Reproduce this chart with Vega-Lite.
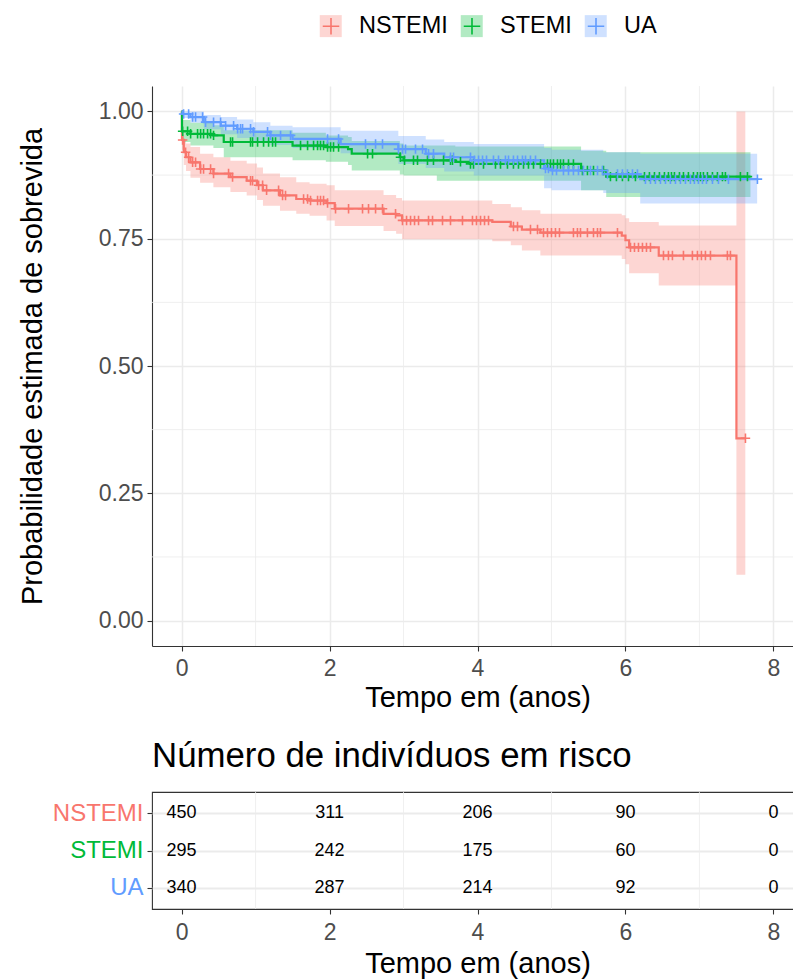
{
"$schema": "https://vega.github.io/schema/vega-lite/v6.json",
"background": "white",
"padding": {"left": 18, "top": 14, "right": 0, "bottom": 0},
"config": {
  "font": "Liberation Sans",
  "view": {"stroke": null},
  "axis": {"labelFont": "Liberation Sans", "labelFontSize": 23, "labelColor": "#4d4d4d", "titleFont": "Liberation Sans", "titleFontSize": 29, "titleFontWeight": "normal", "titleColor": "#000000", "domain": true, "ticks": true, "tickColor": "#333333", "tickSize": 5, "tickWidth": 1.1, "domainColor": "#333333", "domainWidth": 1.1, "gridColor": "#ebebeb", "gridWidth": 1.5, "labelPadding": 4},
  "legend": {"labelFont": "Liberation Sans", "labelFontSize": 23.5, "labelColor": "#000000", "padding": 0}
},
"datasets": {
  "curve": [
    {"g":"NSTEMI","t":0,"s":1,"lo":1,"hi":1},
    {"g":"NSTEMI","t":0.005,"s":0.944,"lo":0.925,"hi":0.963},
    {"g":"NSTEMI","t":0.03,"s":0.92,"lo":0.895,"hi":0.945},
    {"g":"NSTEMI","t":0.06,"s":0.91,"lo":0.883,"hi":0.937},
    {"g":"NSTEMI","t":0.12,"s":0.9,"lo":0.87,"hi":0.93},
    {"g":"NSTEMI","t":0.25,"s":0.887,"lo":0.86,"hi":0.917},
    {"g":"NSTEMI","t":0.43,"s":0.878,"lo":0.851,"hi":0.91},
    {"g":"NSTEMI","t":0.66,"s":0.871,"lo":0.842,"hi":0.903},
    {"g":"NSTEMI","t":0.88,"s":0.864,"lo":0.835,"hi":0.898},
    {"g":"NSTEMI","t":1.02,"s":0.855,"lo":0.826,"hi":0.89},
    {"g":"NSTEMI","t":1.1,"s":0.845,"lo":0.815,"hi":0.878},
    {"g":"NSTEMI","t":1.33,"s":0.835,"lo":0.805,"hi":0.871},
    {"g":"NSTEMI","t":1.55,"s":0.828,"lo":0.799,"hi":0.861},
    {"g":"NSTEMI","t":1.73,"s":0.825,"lo":0.795,"hi":0.858},
    {"g":"NSTEMI","t":1.96,"s":0.82,"lo":0.786,"hi":0.855},
    {"g":"NSTEMI","t":2.07,"s":0.809,"lo":0.775,"hi":0.845},
    {"g":"NSTEMI","t":2.73,"s":0.799,"lo":0.765,"hi":0.836},
    {"g":"NSTEMI","t":2.9,"s":0.796,"lo":0.76,"hi":0.83},
    {"g":"NSTEMI","t":2.98,"s":0.786,"lo":0.749,"hi":0.825},
    {"g":"NSTEMI","t":4.2,"s":0.783,"lo":0.745,"hi":0.818},
    {"g":"NSTEMI","t":4.45,"s":0.774,"lo":0.737,"hi":0.812},
    {"g":"NSTEMI","t":4.6,"s":0.768,"lo":0.727,"hi":0.806},
    {"g":"NSTEMI","t":4.85,"s":0.762,"lo":0.717,"hi":0.799},
    {"g":"NSTEMI","t":5.95,"s":0.756,"lo":0.71,"hi":0.796},
    {"g":"NSTEMI","t":6.0,"s":0.747,"lo":0.7,"hi":0.79},
    {"g":"NSTEMI","t":6.05,"s":0.733,"lo":0.682,"hi":0.783},
    {"g":"NSTEMI","t":6.45,"s":0.717,"lo":0.658,"hi":0.776},
    {"g":"NSTEMI","t":7.5,"s":0.358,"lo":0.09,"hi":1.0},
    {"g":"NSTEMI","t":7.62,"s":0.358,"lo":0.09,"hi":1.0},
    {"g":"STEMI","t":0,"s":1,"lo":1,"hi":1},
    {"g":"STEMI","t":0.005,"s":0.961,"lo":0.94,"hi":0.983},
    {"g":"STEMI","t":0.12,"s":0.956,"lo":0.933,"hi":0.978},
    {"g":"STEMI","t":0.43,"s":0.953,"lo":0.928,"hi":0.973},
    {"g":"STEMI","t":0.57,"s":0.94,"lo":0.91,"hi":0.963},
    {"g":"STEMI","t":1.5,"s":0.933,"lo":0.904,"hi":0.958},
    {"g":"STEMI","t":1.95,"s":0.93,"lo":0.901,"hi":0.953},
    {"g":"STEMI","t":2.25,"s":0.926,"lo":0.895,"hi":0.95},
    {"g":"STEMI","t":2.3,"s":0.917,"lo":0.884,"hi":0.942},
    {"g":"STEMI","t":2.95,"s":0.91,"lo":0.876,"hi":0.937},
    {"g":"STEMI","t":3.0,"s":0.904,"lo":0.874,"hi":0.933},
    {"g":"STEMI","t":3.45,"s":0.904,"lo":0.864,"hi":0.933},
    {"g":"STEMI","t":3.7,"s":0.901,"lo":0.864,"hi":0.931},
    {"g":"STEMI","t":3.9,"s":0.897,"lo":0.864,"hi":0.931},
    {"g":"STEMI","t":5.4,"s":0.884,"lo":0.845,"hi":0.923},
    {"g":"STEMI","t":5.74,"s":0.872,"lo":0.832,"hi":0.92},
    {"g":"STEMI","t":7.69,"s":0.872,"lo":0.832,"hi":0.92},
    {"g":"UA","t":0,"s":1,"lo":1,"hi":1},
    {"g":"UA","t":0.01,"s":0.995,"lo":0.987,"hi":1.0},
    {"g":"UA","t":0.12,"s":0.989,"lo":0.978,"hi":1.0},
    {"g":"UA","t":0.3,"s":0.979,"lo":0.965,"hi":0.993},
    {"g":"UA","t":0.53,"s":0.972,"lo":0.955,"hi":0.989},
    {"g":"UA","t":0.75,"s":0.966,"lo":0.948,"hi":0.984},
    {"g":"UA","t":0.97,"s":0.96,"lo":0.94,"hi":0.979},
    {"g":"UA","t":1.2,"s":0.953,"lo":0.934,"hi":0.972},
    {"g":"UA","t":1.5,"s":0.946,"lo":0.928,"hi":0.969},
    {"g":"UA","t":2.15,"s":0.936,"lo":0.918,"hi":0.962},
    {"g":"UA","t":2.93,"s":0.926,"lo":0.897,"hi":0.952},
    {"g":"UA","t":3.3,"s":0.917,"lo":0.889,"hi":0.945},
    {"g":"UA","t":3.55,"s":0.91,"lo":0.882,"hi":0.94},
    {"g":"UA","t":3.95,"s":0.904,"lo":0.874,"hi":0.936},
    {"g":"UA","t":4.9,"s":0.888,"lo":0.849,"hi":0.928},
    {"g":"UA","t":5.0,"s":0.884,"lo":0.845,"hi":0.925},
    {"g":"UA","t":5.7,"s":0.877,"lo":0.84,"hi":0.92},
    {"g":"UA","t":6.2,"s":0.867,"lo":0.819,"hi":0.917},
    {"g":"UA","t":7.78,"s":0.867,"lo":0.819,"hi":0.917}
  ],
  "cens": [
    {"g":"NSTEMI","t":0.014,"s":0.944},{"g":"NSTEMI","t":0.054,"s":0.92},{"g":"NSTEMI","t":0.095,"s":0.91},{"g":"NSTEMI","t":0.149,"s":0.9},{"g":"NSTEMI","t":0.189,"s":0.9},{"g":"NSTEMI","t":0.257,"s":0.887},{"g":"NSTEMI","t":0.297,"s":0.887},{"g":"NSTEMI","t":0.392,"s":0.887},{"g":"NSTEMI","t":0.432,"s":0.878},{"g":"NSTEMI","t":0.635,"s":0.878},{"g":"NSTEMI","t":0.689,"s":0.871},{"g":"NSTEMI","t":0.932,"s":0.864},{"g":"NSTEMI","t":0.959,"s":0.864},{"g":"NSTEMI","t":1.041,"s":0.855},{"g":"NSTEMI","t":1.095,"s":0.855},{"g":"NSTEMI","t":1.149,"s":0.845},{"g":"NSTEMI","t":1.311,"s":0.845},{"g":"NSTEMI","t":1.365,"s":0.835},{"g":"NSTEMI","t":1.405,"s":0.835},{"g":"NSTEMI","t":1.649,"s":0.828},{"g":"NSTEMI","t":1.703,"s":0.828},{"g":"NSTEMI","t":1.743,"s":0.825},{"g":"NSTEMI","t":1.838,"s":0.825},{"g":"NSTEMI","t":1.878,"s":0.825},{"g":"NSTEMI","t":1.919,"s":0.825},{"g":"NSTEMI","t":1.973,"s":0.82},{"g":"NSTEMI","t":2.081,"s":0.809},{"g":"NSTEMI","t":2.257,"s":0.809},{"g":"NSTEMI","t":2.446,"s":0.809},{"g":"NSTEMI","t":2.527,"s":0.809},{"g":"NSTEMI","t":2.622,"s":0.809},{"g":"NSTEMI","t":2.716,"s":0.809},{"g":"NSTEMI","t":2.892,"s":0.799},{"g":"NSTEMI","t":2.986,"s":0.786},{"g":"NSTEMI","t":3.041,"s":0.786},{"g":"NSTEMI","t":3.095,"s":0.786},{"g":"NSTEMI","t":3.149,"s":0.786},{"g":"NSTEMI","t":3.203,"s":0.786},{"g":"NSTEMI","t":3.338,"s":0.786},{"g":"NSTEMI","t":3.392,"s":0.786},{"g":"NSTEMI","t":3.527,"s":0.786},{"g":"NSTEMI","t":3.635,"s":0.786},{"g":"NSTEMI","t":3.797,"s":0.786},{"g":"NSTEMI","t":3.932,"s":0.786},{"g":"NSTEMI","t":3.986,"s":0.786},{"g":"NSTEMI","t":4.041,"s":0.786},{"g":"NSTEMI","t":4.095,"s":0.786},{"g":"NSTEMI","t":4.149,"s":0.786},{"g":"NSTEMI","t":4.486,"s":0.774},{"g":"NSTEMI","t":4.541,"s":0.774},{"g":"NSTEMI","t":4.716,"s":0.768},{"g":"NSTEMI","t":4.811,"s":0.768},{"g":"NSTEMI","t":4.892,"s":0.762},{"g":"NSTEMI","t":4.946,"s":0.762},{"g":"NSTEMI","t":5.0,"s":0.762},{"g":"NSTEMI","t":5.054,"s":0.762},{"g":"NSTEMI","t":5.108,"s":0.762},{"g":"NSTEMI","t":5.297,"s":0.762},{"g":"NSTEMI","t":5.351,"s":0.762},{"g":"NSTEMI","t":5.392,"s":0.762},{"g":"NSTEMI","t":5.486,"s":0.762},{"g":"NSTEMI","t":5.568,"s":0.762},{"g":"NSTEMI","t":5.622,"s":0.762},{"g":"NSTEMI","t":5.662,"s":0.762},{"g":"NSTEMI","t":5.892,"s":0.762},{"g":"NSTEMI","t":6.068,"s":0.733},{"g":"NSTEMI","t":6.122,"s":0.733},{"g":"NSTEMI","t":6.176,"s":0.733},{"g":"NSTEMI","t":6.23,"s":0.733},{"g":"NSTEMI","t":6.284,"s":0.733},{"g":"NSTEMI","t":6.338,"s":0.733},{"g":"NSTEMI","t":6.514,"s":0.717},{"g":"NSTEMI","t":6.581,"s":0.717},{"g":"NSTEMI","t":6.635,"s":0.717},{"g":"NSTEMI","t":6.784,"s":0.717},{"g":"NSTEMI","t":6.905,"s":0.717},{"g":"NSTEMI","t":6.973,"s":0.717},{"g":"NSTEMI","t":7.027,"s":0.717},{"g":"NSTEMI","t":7.081,"s":0.717},{"g":"NSTEMI","t":7.149,"s":0.717},{"g":"NSTEMI","t":7.378,"s":0.717},{"g":"NSTEMI","t":7.419,"s":0.717},{"g":"NSTEMI","t":7.622,"s":0.358},
    {"g":"STEMI","t":0.014,"s":0.961},{"g":"STEMI","t":0.081,"s":0.961},{"g":"STEMI","t":0.122,"s":0.956},{"g":"STEMI","t":0.216,"s":0.956},{"g":"STEMI","t":0.257,"s":0.956},{"g":"STEMI","t":0.297,"s":0.956},{"g":"STEMI","t":0.351,"s":0.956},{"g":"STEMI","t":0.392,"s":0.956},{"g":"STEMI","t":0.432,"s":0.953},{"g":"STEMI","t":0.662,"s":0.94},{"g":"STEMI","t":0.689,"s":0.94},{"g":"STEMI","t":0.932,"s":0.94},{"g":"STEMI","t":0.959,"s":0.94},{"g":"STEMI","t":1.027,"s":0.94},{"g":"STEMI","t":1.108,"s":0.94},{"g":"STEMI","t":1.176,"s":0.94},{"g":"STEMI","t":1.23,"s":0.94},{"g":"STEMI","t":1.27,"s":0.94},{"g":"STEMI","t":1.608,"s":0.933},{"g":"STEMI","t":1.703,"s":0.933},{"g":"STEMI","t":1.784,"s":0.933},{"g":"STEMI","t":1.838,"s":0.933},{"g":"STEMI","t":1.878,"s":0.933},{"g":"STEMI","t":1.919,"s":0.933},{"g":"STEMI","t":1.973,"s":0.93},{"g":"STEMI","t":2.014,"s":0.93},{"g":"STEMI","t":2.054,"s":0.93},{"g":"STEMI","t":2.122,"s":0.93},{"g":"STEMI","t":2.514,"s":0.917},{"g":"STEMI","t":2.581,"s":0.917},{"g":"STEMI","t":2.959,"s":0.91},{"g":"STEMI","t":3.014,"s":0.904},{"g":"STEMI","t":3.135,"s":0.904},{"g":"STEMI","t":3.189,"s":0.904},{"g":"STEMI","t":3.324,"s":0.904},{"g":"STEMI","t":3.405,"s":0.904},{"g":"STEMI","t":3.541,"s":0.904},{"g":"STEMI","t":3.635,"s":0.904},{"g":"STEMI","t":3.662,"s":0.904},{"g":"STEMI","t":3.77,"s":0.901},{"g":"STEMI","t":3.905,"s":0.897},{"g":"STEMI","t":3.946,"s":0.897},{"g":"STEMI","t":4.081,"s":0.897},{"g":"STEMI","t":4.243,"s":0.897},{"g":"STEMI","t":4.311,"s":0.897},{"g":"STEMI","t":4.405,"s":0.897},{"g":"STEMI","t":4.486,"s":0.897},{"g":"STEMI","t":4.554,"s":0.897},{"g":"STEMI","t":4.622,"s":0.897},{"g":"STEMI","t":4.689,"s":0.897},{"g":"STEMI","t":4.757,"s":0.897},{"g":"STEMI","t":4.851,"s":0.897},{"g":"STEMI","t":4.946,"s":0.897},{"g":"STEMI","t":4.986,"s":0.897},{"g":"STEMI","t":5.027,"s":0.897},{"g":"STEMI","t":5.081,"s":0.897},{"g":"STEMI","t":5.122,"s":0.897},{"g":"STEMI","t":5.162,"s":0.897},{"g":"STEMI","t":5.23,"s":0.897},{"g":"STEMI","t":5.297,"s":0.897},{"g":"STEMI","t":5.419,"s":0.884},{"g":"STEMI","t":5.486,"s":0.884},{"g":"STEMI","t":5.568,"s":0.884},{"g":"STEMI","t":5.703,"s":0.884},{"g":"STEMI","t":5.797,"s":0.872},{"g":"STEMI","t":5.878,"s":0.872},{"g":"STEMI","t":5.959,"s":0.872},{"g":"STEMI","t":6.041,"s":0.872},{"g":"STEMI","t":6.135,"s":0.872},{"g":"STEMI","t":6.257,"s":0.872},{"g":"STEMI","t":6.324,"s":0.872},{"g":"STEMI","t":6.392,"s":0.872},{"g":"STEMI","t":6.459,"s":0.872},{"g":"STEMI","t":6.527,"s":0.872},{"g":"STEMI","t":6.581,"s":0.872},{"g":"STEMI","t":6.622,"s":0.872},{"g":"STEMI","t":6.662,"s":0.872},{"g":"STEMI","t":6.73,"s":0.872},{"g":"STEMI","t":6.784,"s":0.872},{"g":"STEMI","t":6.851,"s":0.872},{"g":"STEMI","t":6.919,"s":0.872},{"g":"STEMI","t":6.973,"s":0.872},{"g":"STEMI","t":7.014,"s":0.872},{"g":"STEMI","t":7.054,"s":0.872},{"g":"STEMI","t":7.108,"s":0.872},{"g":"STEMI","t":7.176,"s":0.872},{"g":"STEMI","t":7.243,"s":0.872},{"g":"STEMI","t":7.311,"s":0.872},{"g":"STEMI","t":7.351,"s":0.872},{"g":"STEMI","t":7.554,"s":0.872},{"g":"STEMI","t":7.649,"s":0.872},
    {"g":"UA","t":0.027,"s":0.995},{"g":"UA","t":0.095,"s":0.995},{"g":"UA","t":0.149,"s":0.989},{"g":"UA","t":0.189,"s":0.989},{"g":"UA","t":0.284,"s":0.989},{"g":"UA","t":0.324,"s":0.979},{"g":"UA","t":0.432,"s":0.979},{"g":"UA","t":0.527,"s":0.979},{"g":"UA","t":0.595,"s":0.972},{"g":"UA","t":0.703,"s":0.972},{"g":"UA","t":0.757,"s":0.966},{"g":"UA","t":0.797,"s":0.966},{"g":"UA","t":0.824,"s":0.966},{"g":"UA","t":0.932,"s":0.966},{"g":"UA","t":0.973,"s":0.96},{"g":"UA","t":1.162,"s":0.96},{"g":"UA","t":1.203,"s":0.953},{"g":"UA","t":1.338,"s":0.953},{"g":"UA","t":1.473,"s":0.953},{"g":"UA","t":1.973,"s":0.946},{"g":"UA","t":2.122,"s":0.946},{"g":"UA","t":2.486,"s":0.936},{"g":"UA","t":2.622,"s":0.936},{"g":"UA","t":2.716,"s":0.936},{"g":"UA","t":2.932,"s":0.926},{"g":"UA","t":2.986,"s":0.926},{"g":"UA","t":3.027,"s":0.926},{"g":"UA","t":3.162,"s":0.926},{"g":"UA","t":3.257,"s":0.926},{"g":"UA","t":3.338,"s":0.917},{"g":"UA","t":3.405,"s":0.917},{"g":"UA","t":3.635,"s":0.91},{"g":"UA","t":3.676,"s":0.91},{"g":"UA","t":3.905,"s":0.91},{"g":"UA","t":3.959,"s":0.904},{"g":"UA","t":4.014,"s":0.904},{"g":"UA","t":4.068,"s":0.904},{"g":"UA","t":4.122,"s":0.904},{"g":"UA","t":4.216,"s":0.904},{"g":"UA","t":4.284,"s":0.904},{"g":"UA","t":4.378,"s":0.904},{"g":"UA","t":4.419,"s":0.904},{"g":"UA","t":4.486,"s":0.904},{"g":"UA","t":4.541,"s":0.904},{"g":"UA","t":4.608,"s":0.904},{"g":"UA","t":4.649,"s":0.904},{"g":"UA","t":4.716,"s":0.904},{"g":"UA","t":4.784,"s":0.904},{"g":"UA","t":4.919,"s":0.888},{"g":"UA","t":4.959,"s":0.888},{"g":"UA","t":5.014,"s":0.884},{"g":"UA","t":5.068,"s":0.884},{"g":"UA","t":5.162,"s":0.884},{"g":"UA","t":5.23,"s":0.884},{"g":"UA","t":5.297,"s":0.884},{"g":"UA","t":5.365,"s":0.884},{"g":"UA","t":5.432,"s":0.884},{"g":"UA","t":5.527,"s":0.884},{"g":"UA","t":5.622,"s":0.884},{"g":"UA","t":5.689,"s":0.884},{"g":"UA","t":5.757,"s":0.877},{"g":"UA","t":5.892,"s":0.877},{"g":"UA","t":5.959,"s":0.877},{"g":"UA","t":6.027,"s":0.877},{"g":"UA","t":6.095,"s":0.877},{"g":"UA","t":6.162,"s":0.877},{"g":"UA","t":6.27,"s":0.867},{"g":"UA","t":6.338,"s":0.867},{"g":"UA","t":6.405,"s":0.867},{"g":"UA","t":6.473,"s":0.867},{"g":"UA","t":6.541,"s":0.867},{"g":"UA","t":6.608,"s":0.867},{"g":"UA","t":6.676,"s":0.867},{"g":"UA","t":6.743,"s":0.867},{"g":"UA","t":6.811,"s":0.867},{"g":"UA","t":6.878,"s":0.867},{"g":"UA","t":6.932,"s":0.867},{"g":"UA","t":6.986,"s":0.867},{"g":"UA","t":7.041,"s":0.867},{"g":"UA","t":7.095,"s":0.867},{"g":"UA","t":7.176,"s":0.867},{"g":"UA","t":7.257,"s":0.867},{"g":"UA","t":7.392,"s":0.867},{"g":"UA","t":7.784,"s":0.867}
  ],
  "risk": [
    {"g":"NSTEMI","t":0,"n":450},{"g":"NSTEMI","t":2,"n":311},{"g":"NSTEMI","t":4,"n":206},{"g":"NSTEMI","t":6,"n":90},{"g":"NSTEMI","t":8,"n":0},
    {"g":"STEMI","t":0,"n":295},{"g":"STEMI","t":2,"n":242},{"g":"STEMI","t":4,"n":175},{"g":"STEMI","t":6,"n":60},{"g":"STEMI","t":8,"n":0},
    {"g":"UA","t":0,"n":340},{"g":"UA","t":2,"n":287},{"g":"UA","t":4,"n":214},{"g":"UA","t":6,"n":92},{"g":"UA","t":8,"n":0}
  ],
  "minorx": [{"v":1},{"v":3},{"v":5},{"v":7}],
  "minory": [{"v":0.125},{"v":0.375},{"v":0.625},{"v":0.875}]
},
"spacing": 26,
"resolve": {"scale": {"fill": "independent", "stroke": "independent"}, "legend": {"fill": "independent", "stroke": "independent"}},
"vconcat": [
  {
    "width": 651,
    "height": 560,
    "layer": [
      {
        "data": {"name": "minorx"},
        "mark": {"type": "rule", "color": "#ebebeb", "strokeWidth": 0.8},
        "encoding": {
          "x": {"field": "v", "type": "quantitative", "scale": {"domain": [-0.4, 8.4], "nice": false, "zero": false}, "axis": {"values": [0,2,4,6,8], "format": "d", "title": "Tempo em (anos)", "grid": true, "labelPadding": 6, "titlePadding": 3}}
        }
      },
      {
        "data": {"name": "minory"},
        "mark": {"type": "rule", "color": "#ebebeb", "strokeWidth": 0.8},
        "encoding": {
          "y": {"field": "v", "type": "quantitative", "scale": {"domain": [-0.05, 1.05], "nice": false, "zero": false}, "axis": {"values": [0,0.25,0.5,0.75,1], "format": ".2f", "title": "Probabilidade estimada de sobrevida", "grid": true, "titlePadding": 51}}
        }
      },
      {
        "data": {"name": "curve"},
        "mark": {"type": "area", "interpolate": "step-after", "opacity": 0.3},
        "encoding": {
          "x": {"field": "t", "type": "quantitative", "scale": {"domain": [-0.4, 8.4], "nice": false, "zero": false}, "axis": {"values": [0,2,4,6,8], "format": "d", "title": "Tempo em (anos)", "grid": true, "labelPadding": 6, "titlePadding": 3}},
          "y": {"field": "lo", "type": "quantitative", "scale": {"domain": [-0.05, 1.05], "nice": false, "zero": false}, "axis": {"values": [0,0.25,0.5,0.75,1], "format": ".2f", "title": "Probabilidade estimada de sobrevida", "grid": true, "titlePadding": 51}},
          "y2": {"field": "hi"},
          "fill": {"field": "g", "type": "nominal", "scale": {"range": ["#F8766D","#00BA38","#619CFF"]},
                   "legend": {"orient": "none", "direction": "horizontal", "legendX": 167, "legendY": -72, "title": null, "symbolType": "square", "symbolSize": 484, "symbolOpacity": 0.3, "symbolStrokeWidth": 0, "labelOffset": 16, "columnPadding": 12, "labelOpacity": 0, "zindex": 0}}
        }
      },
      {
        "data": {"name": "curve"},
        "mark": {"type": "line", "interpolate": "step-after", "strokeWidth": 2.2},
        "encoding": {
          "x": {"field": "t", "type": "quantitative", "scale": {"domain": [-0.4, 8.4], "nice": false, "zero": false}, "axis": {"values": [0,2,4,6,8], "format": "d", "title": "Tempo em (anos)", "grid": true, "labelPadding": 6, "titlePadding": 3}},
          "y": {"field": "s", "type": "quantitative", "scale": {"domain": [-0.05, 1.05], "nice": false, "zero": false}, "axis": {"values": [0,0.25,0.5,0.75,1], "format": ".2f", "title": "Probabilidade estimada de sobrevida", "grid": true, "titlePadding": 51}},
          "stroke": {"field": "g", "type": "nominal", "scale": {"domain": ["NSTEMI","STEMI","UA"], "range": ["#F8766D","#00BA38","#619CFF"]},
                     "legend": {"orient": "none", "direction": "horizontal", "legendX": 167, "legendY": -72, "title": null, "symbolType": "M-0.75,0H0.75M0,-0.75V0.75", "symbolSize": 484, "symbolStrokeWidth": 1.6, "symbolFillColor": "transparent", "labelOffset": 16, "columnPadding": 12, "zindex": 1}}
        }
      },
      {
        "data": {"name": "cens"},
        "mark": {"type": "point", "shape": "M-1,0H1M0,-1V1", "filled": false, "size": 90, "strokeWidth": 1.6, "opacity": 1},
        "encoding": {
          "x": {"field": "t", "type": "quantitative", "scale": {"domain": [-0.4, 8.4], "nice": false, "zero": false}, "axis": {"values": [0,2,4,6,8], "format": "d", "title": "Tempo em (anos)", "grid": true, "labelPadding": 6, "titlePadding": 3}},
          "y": {"field": "s", "type": "quantitative", "scale": {"domain": [-0.05, 1.05], "nice": false, "zero": false}, "axis": {"values": [0,0.25,0.5,0.75,1], "format": ".2f", "title": "Probabilidade estimada de sobrevida", "grid": true, "titlePadding": 51}},
          "stroke": {"field": "g", "type": "nominal", "scale": {"domain": ["NSTEMI","STEMI","UA"], "range": ["#F8766D","#00BA38","#619CFF"]},
                     "legend": {"orient": "none", "direction": "horizontal", "legendX": 167, "legendY": -72, "title": null, "symbolType": "M-0.75,0H0.75M0,-0.75V0.75", "symbolSize": 484, "symbolStrokeWidth": 1.6, "symbolFillColor": "transparent", "labelOffset": 16, "columnPadding": 12, "zindex": 1}}
        }
      },
      {
        "mark": {"type": "text", "text": "p < 0.0001", "align": "left", "baseline": "middle", "fontSize": 18, "font": "Liberation Sans", "color": "#000000"},
        "encoding": {
          "x": {"datum": 0.16, "type": "quantitative"},
          "y": {"datum": 0.196, "type": "quantitative"}
        }
      }
    ]
  },
  {
    "width": 651,
    "height": 117,
    "title": {"text": "Número de indivíduos em risco", "anchor": "start", "frame": "group", "fontSize": 34.8, "font": "Liberation Sans", "fontWeight": "normal", "color": "#000000", "offset": 17},
    "view": {"stroke": "#333333", "strokeWidth": 1.1},
    "layer": [
      {
        "data": {"name": "minorx"},
        "mark": {"type": "rule", "color": "#ebebeb", "strokeWidth": 0.8},
        "encoding": {
          "x": {"field": "v", "type": "quantitative", "scale": {"domain": [-0.4, 8.4], "nice": false, "zero": false}, "axis": {"values": [0,2,4,6,8], "format": "d", "title": "Tempo em (anos)", "grid": false, "labelPadding": 7, "titlePadding": 5}}
        }
      },
      {
        "data": {"name": "risk"},
        "mark": {"type": "text", "fontSize": 18, "font": "Liberation Sans", "color": "#000000", "baseline": "middle"},
        "encoding": {
          "x": {"field": "t", "type": "quantitative", "scale": {"domain": [-0.4, 8.4], "nice": false, "zero": false}, "axis": {"values": [0,2,4,6,8], "format": "d", "title": "Tempo em (anos)", "grid": false, "labelPadding": 7, "titlePadding": 5}},
          "y": {"field": "g", "type": "nominal", "scale": {"type": "point", "domain": ["NSTEMI","STEMI","UA"], "padding": 0.58},
                "axis": {"title": null, "grid": true, "gridWidth": 2, "domain": false, "labelFontSize": 24, "labelPadding": 4, "labelColor": {"expr": "datum.value == 'NSTEMI' ? '#F8766D' : datum.value == 'STEMI' ? '#00BA38' : '#619CFF'"}}},
          "text": {"field": "n", "type": "quantitative"}
        }
      }
    ]
  }
]
}
